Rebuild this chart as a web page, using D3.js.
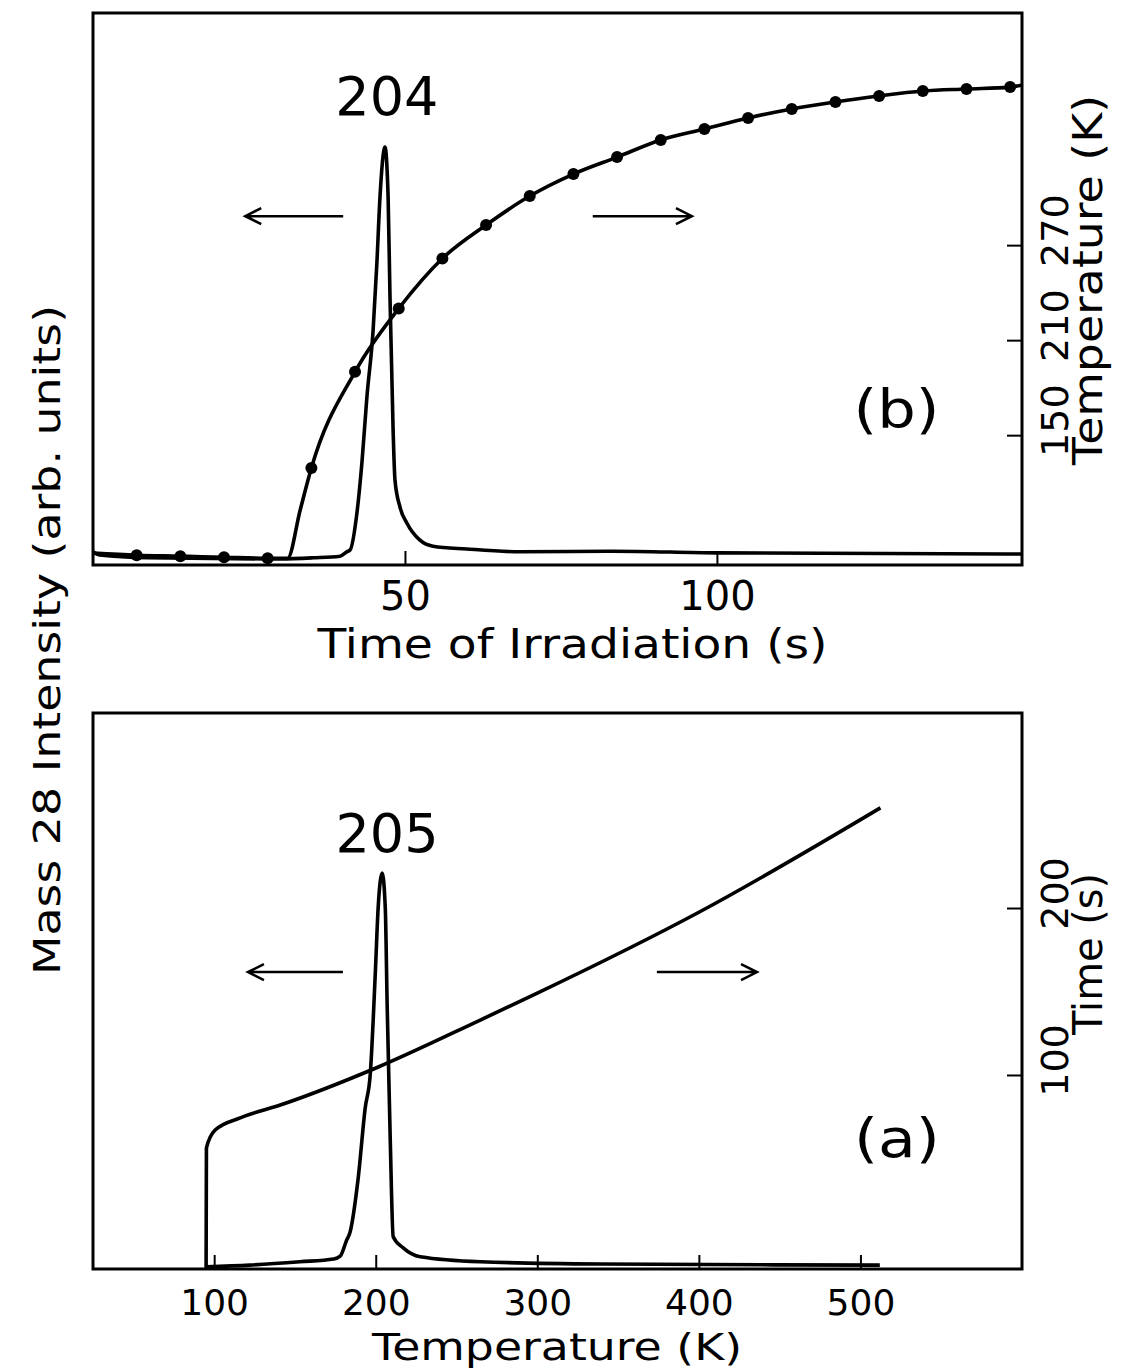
<!DOCTYPE html>
<html>
<head>
<meta charset="utf-8">
<script src="https://cdn.jsdelivr.net/npm/d3@7"></script>
<style>
    body { margin: 0; background: #fff; }
    text { font-family: "DejaVu Sans", sans-serif; fill: #000; }
</style>
</head>
<body>
<div id="chart-area"></div>
<script>
/* (b) top panel: mass 28 intensity and temperature vs time of irradiation */
var timeB      = [0, 1.1, 8.7, 30, 35.3, 39.6, 40.7, 41.2, 42.3, 43.1, 43.9, 44.9, 45.5, 46.0, 46.8, 47.3, 47.6, 48.1, 48.4, 49.2, 50.3, 52.4, 54.5, 59.9, 68.4, 83.3, 100, 148.9];
var intensityB = [2.4, 1.8, 1.3, 1.1, 1.3, 1.6, 2.4, 2.7, 9.4, 18.5, 30.4, 42.6, 54.7, 66.7, 75.7, 66.7, 48.6, 24.5, 15.4, 10.5, 7.6, 4.5, 3.4, 2.9, 2.4, 2.5, 2.2, 2.0];

var tempTimeB  = [0, 7, 14, 21, 28, 31.2, 33.2, 35, 42, 49, 56, 63, 70, 77, 84, 91, 98, 105, 112, 119, 126, 133, 140, 147, 148.9];
var tempB      = [75.5, 74.2, 73.6, 72.9, 72.3, 72.3, 102.6, 129.2, 190, 230, 261.6, 282.7, 301, 314.9, 325.6, 336.4, 343.3, 350.3, 356, 360.4, 364.2, 367.3, 368.6, 369.8, 371.1];
var dotTimesB  = [7, 14, 21, 28, 35, 42, 49, 56, 63, 70, 77, 84, 91, 98, 105, 112, 119, 126, 133, 140, 147];

/* (a) bottom panel: mass 28 intensity and time vs temperature */
var tempA      = [95, 122, 153, 174, 178, 182, 184, 189, 193.5, 196.6, 199.7, 201.5, 204, 205.9, 207.1, 209, 210.8, 217, 227.6, 264.7, 339, 512];
var intensityA = [0.4, 0.7, 1.3, 1.8, 2.3, 5.2, 6.5, 16, 29, 35, 53, 65, 71.2, 65, 47, 23, 5.8, 3.8, 2.2, 1.3, 0.9, 0.7];

var timeTempA  = [95, 95.2, 100.6, 116.1, 140.9, 201.6, 264.7, 300, 400.3, 512.4];
var timeA      = [-16.2, 56.3, 67, 74.3, 82, 104.8, 132.9, 149, 197.6, 260];

var ticksB  = [50, 100];
var ticksBr = [150, 210, 270];
var ticksA  = [100, 200, 300, 400, 500];
var ticksAr = [100, 200];

var W = 1125, H = 1371;
var svg = d3.select("#chart-area").append("svg")
    .attr("width", W)
    .attr("height", H);

var left = 93, right = 1022;

// ---------- panel (b) ----------
var xB  = d3.scaleLinear().domain([0, 148.9]).range([left, right]);
var yB  = d3.scaleLinear().domain([0, 100]).range([565, 13]);
var yBT = d3.scaleLinear().domain([68, 416.6]).range([565, 13]);

// ---------- panel (a) ----------
var xA  = d3.scaleLinear().domain([25, 600]).range([left, right]);
var yA  = d3.scaleLinear().domain([0, 100]).range([1269, 713]);
var yAt = d3.scaleLinear().domain([-16.2, 316.8]).range([1269, 713]);

function drawFrame(x, y) {
    svg.append("rect")
        .attr("x", x.range()[0])
        .attr("y", y.range()[1])
        .attr("width", x.range()[1] - x.range()[0])
        .attr("height", y.range()[0] - y.range()[1])
        .attr("fill", "none")
        .attr("stroke", "#000")
        .attr("stroke-width", 3);
}

function drawLine(xs, ys, x, y) {
    var pts = xs.map(function(d, i){ return [d, ys[i]]; });
    var line = d3.line()
        .x(function(d){ return x(d[0]); })
        .y(function(d){ return y(d[1]); })
        .curve(d3.curveMonotoneX);
    svg.append("path")
        .attr("d", line(pts))
        .attr("fill", "none")
        .attr("stroke", "#000")
        .attr("stroke-width", 3.6)
        .attr("stroke-linejoin", "round");
}

function bottomAxis(x, y, ticks, size, pad) {
    var g = svg.append("g")
        .attr("transform", "translate(0," + y.range()[0] + ")")
        .call(d3.axisBottom(x).tickValues(ticks).tickSizeInner(-14).tickSizeOuter(0).tickPadding(pad));
    g.select(".domain").remove();
    g.selectAll("line").attr("stroke", "#000").attr("stroke-width", 2);
    g.selectAll("text").attr("font-size", size).attr("font-family", "DejaVu Sans");
}

function rightAxis(y, ticks, size) {
    var g = svg.append("g")
        .attr("transform", "translate(" + right + ",0)")
        .call(d3.axisRight(y).tickValues(ticks).tickSizeInner(-15).tickSizeOuter(0));
    g.select(".domain").remove();
    g.selectAll("line").attr("stroke", "#000").attr("stroke-width", 2);
    g.selectAll("text")
        .attr("x", null)
        .attr("dy", null)
        .attr("font-size", size)
        .attr("font-family", "DejaVu Sans")
        .attr("text-anchor", "middle")
        .attr("transform", "translate(46,-15) rotate(-90)");
}

function arrow(x, y, x1, x2, yv) {
    // shaft from x1 to x2, head at x2
    var a = x(x1), b = x(x2), c = y(yv);
    var dir = b > a ? -1 : 1;
    svg.append("path")
        .attr("d", "M" + a + "," + c + "L" + b + "," + c +
                   "M" + (b + dir * 16) + "," + (c - 8) + "L" + b + "," + c + "L" + (b + dir * 16) + "," + (c + 8))
        .attr("fill", "none")
        .attr("stroke", "#000")
        .attr("stroke-width", 2.5);
}

function label(txt, x, y, size, len) {
    var t = svg.append("text")
        .attr("x", x)
        .attr("y", y)
        .attr("text-anchor", "middle")
        .attr("font-size", size)
        .text(txt);
    if (len) t.attr("textLength", len).attr("lengthAdjust", "spacingAndGlyphs");
    return t;
}

// panel (b)
drawLine(timeB, intensityB, xB, yB);
drawLine(tempTimeB, tempB, xB, yBT);

var tempLookup = d3.scaleLinear().domain(tempTimeB).range(tempB);
svg.selectAll("circle.dotB")
    .data(dotTimesB)
    .enter()
    .append("circle")
    .attr("class", "dotB")
    .attr("cx", function(d){ return xB(d); })
    .attr("cy", function(d){ return yBT(tempLookup(d)); })
    .attr("r", 6)
    .attr("fill", "#000");

drawFrame(xB, yB);
bottomAxis(xB, yB, ticksB, 40, 17);
rightAxis(yBT, ticksBr, 38);

arrow(xB, yB, 40.1, 24.4, 63.2);
arrow(xB, yB, 80.1, 96, 63.2);

label("204", xB(47.1), yB(81.5), 54);
label("(b)", xB(128.8), yB(24.8), 54, 86);
label("Time  of  Irradiation  (s)", (xB(0) + xB(148.9)) / 2 + 15, 658, 40, 510);

svg.append("text")
    .attr("transform", "translate(1102,280) rotate(-90)")
    .attr("text-anchor", "middle")
    .attr("font-size", 40)
    .attr("textLength", 370)
    .attr("lengthAdjust", "spacingAndGlyphs")
    .text("Temperature  (K)");

// panel (a)
drawLine(tempA, intensityA, xA, yA);
drawLine(timeTempA, timeA, xA, yAt);

drawFrame(xA, yA);
bottomAxis(xA, yA, ticksA, 36, 20);
rightAxis(yAt, ticksAr, 38);

arrow(xA, yA, 179.7, 120.9, 53.4);
arrow(xA, yA, 374, 436, 53.4);

label("205", xA(207), yA(75), 54);
label("(a)", xA(522.6), yA(20.1), 54, 86);
label("Temperature  (K)", 557, 1360, 38, 370);

svg.append("text")
    .attr("transform", "translate(1102,954) rotate(-90)")
    .attr("text-anchor", "middle")
    .attr("font-size", 40)
    .attr("textLength", 162)
    .attr("lengthAdjust", "spacingAndGlyphs")
    .text("Time  (s)");

// shared left label
svg.append("text")
    .attr("transform", "translate(60,640) rotate(-90)")
    .attr("text-anchor", "middle")
    .attr("font-size", 38)
    .attr("textLength", 670)
    .attr("lengthAdjust", "spacingAndGlyphs")
    .text("Mass  28  Intensity  (arb.  units)");
</script>
</body>
</html>
